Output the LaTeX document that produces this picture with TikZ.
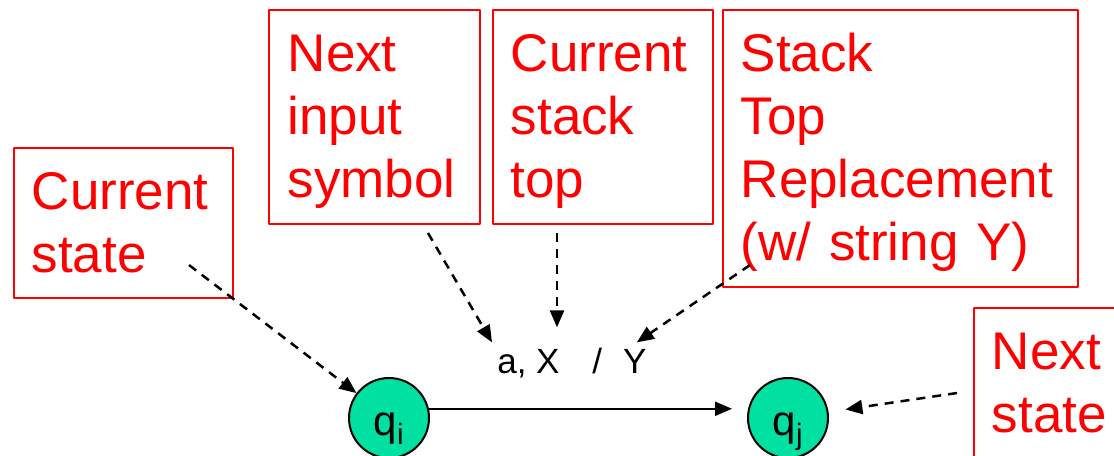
\documentclass[tikz,border=0pt]{standalone}
\usepackage{fontspec}
\setmainfont{Liberation Sans}
\usetikzlibrary{arrows.meta}
\definecolor{stategreen}{RGB}{0,224,160}
\hyphenpenalty=10000
\newcommand\topgap{\rule{0pt}{33pt}}
\begin{document}
\begin{tikzpicture}[x=0.025cm, y=-0.025cm, line join=round, >={Triangle[length=12.1pt,width=10pt]},
	note/.style={draw=red, line width=1.07pt, text=red, anchor=north west, align=left, inner xsep=12.8pt, inner ysep=0pt, font=\fontsize{37.7pt}{44.8pt}\selectfont},
	state/.style={circle, draw, line width=1.42pt, fill=stategreen, minimum size=56.9pt, inner sep=0pt, text height=24.2pt, text depth=0pt, font=\fontsize{29.9pt}{36pt}\selectfont},
	hint/.style={->, dash pattern=on 6.4pt off 5pt, line width=1.78pt}]
	\useasboundingbox (0,0) rectangle (1114,455);
	\clip (0,0) rectangle (1114,455);
	\node[note, text width=130.2pt, minimum height=106.7pt] (cs) at (13,147) {Current\\state};
	\node[note, text width=123.1pt, minimum height=152.2pt, inner xsep=13.5pt] (nis) at (268,9) {\topgap Next\\input\\symbol};
	\node[note, text width=130.9pt, minimum height=152.2pt] (cst) at (492,9) {\topgap Current\\stack\\top};
	\node[note, text width=226.9pt, minimum height=197.1pt] (str) at (722,9) {\topgap Stack\\Top\\Replacement\\(w/ string Y)};
	\node[note, text width=88.2pt, minimum height=106.7pt] (ns) at (973,307) {Next\\state};
	\node[state] (qi) at (389,418) {q\textsubscript{i}};
	\node[state] (qj) at (788,418) {q\textsubscript{j}};
	\node[anchor=base west, inner sep=0pt, font=\fontsize{24.9pt}{30pt}\selectfont] (lbl) at (497,373) {a, X\hspace{0.94em}/\hspace{0.6em}Y};
	\draw[->, line width=1.42pt, shorten >=11.4pt] (qi.13) -- (qj.167);
	\coordinate (s1) at (189,265);
	\coordinate (s2) at (428,233);
	\coordinate (s3) at (557,233);
	\coordinate (s4) at (750,265);
	\coordinate (s5) at (957,393);
	\draw[hint] (s1) -- (qi);
	\draw[hint] (s2) -- ([shift={(-5,-5)}]lbl.north west);
	\draw[hint] (s3) -- ([shift={(60,-20)}]lbl.north west);
	\draw[hint] (s4) -- ([shift={(-10,-5)}]lbl.north east);
	\draw[hint, shorten >=12.1pt] (s5) -- (qj);
\end{tikzpicture}
\end{document}
